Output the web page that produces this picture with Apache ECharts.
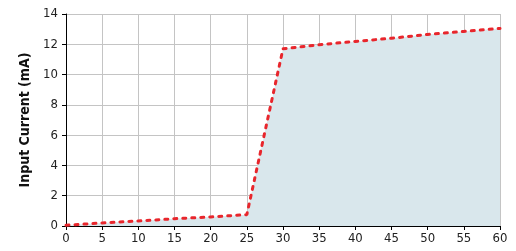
<!DOCTYPE html>
<html><head><meta charset="utf-8">
<script src="https://cdn.jsdelivr.net/npm/echarts@6/dist/echarts.min.js"></script>
<style>html,body{margin:0;padding:0;background:#fff}#c{width:516px;height:251px}</style>
</head><body><div id="c"></div>
<script>
const xValues = [0, 5, 10, 15, 20, 25, 30, 35, 40, 45, 50, 55, 60];
const currentMA = [0.05, 0.2, 0.33, 0.48, 0.6, 0.75, 11.7, 11.97, 12.19, 12.4, 12.65, 12.85, 13.05];
const yTicks = [0, 2, 4, 6, 8, 10, 12, 14];
const xTicks = [0, 5, 10, 15, 20, 25, 30, 35, 40, 45, 50, 55, 60];

const font = '"DejaVu Sans Condensed", "Liberation Sans Narrow", sans-serif';
const chart = echarts.init(document.getElementById('c'));
chart.setOption({
  animation: false,
  grid: { left: 66, right: 16, top: 14, bottom: 25 },
  xAxis: {
    type: 'value', min: xTicks[0], max: xTicks[xTicks.length - 1], interval: 5,
    axisLine: { show: true, lineStyle: { color: '#000', width: 1 } },
    axisTick: { show: true, length: 4, lineStyle: { color: '#000' } },
    axisLabel: { color: '#222', fontFamily: font, fontSize: 13, margin: 6 },
    splitLine: { show: true, lineStyle: { color: '#c4c4c4', width: 1 } }
  },
  yAxis: {
    type: 'value', min: yTicks[0], max: yTicks[yTicks.length - 1], interval: 2,
    name: 'Input Current (mA)', nameLocation: 'middle', nameGap: 34,
    nameTextStyle: { color: '#111', fontFamily: font, fontSize: 14, fontWeight: 'bold' },
    axisLine: { show: true, lineStyle: { color: '#000', width: 1 } },
    axisTick: { show: true, length: 4, lineStyle: { color: '#000' } },
    axisLabel: { color: '#222', fontFamily: font, fontSize: 13, margin: 8 },
    splitLine: { show: true, lineStyle: { color: '#c4c4c4', width: 1 } }
  },
  series: [{
    type: 'line',
    data: xValues.map((x, i) => [x, currentMA[i]]),
    symbol: 'none',
    lineStyle: { color: '#e8262c', width: 3, type: [3, 6], cap: 'round' },
    areaStyle: { color: '#d9e7ec', opacity: 1 },
    z: 3
  }]
});
</script></body></html>
